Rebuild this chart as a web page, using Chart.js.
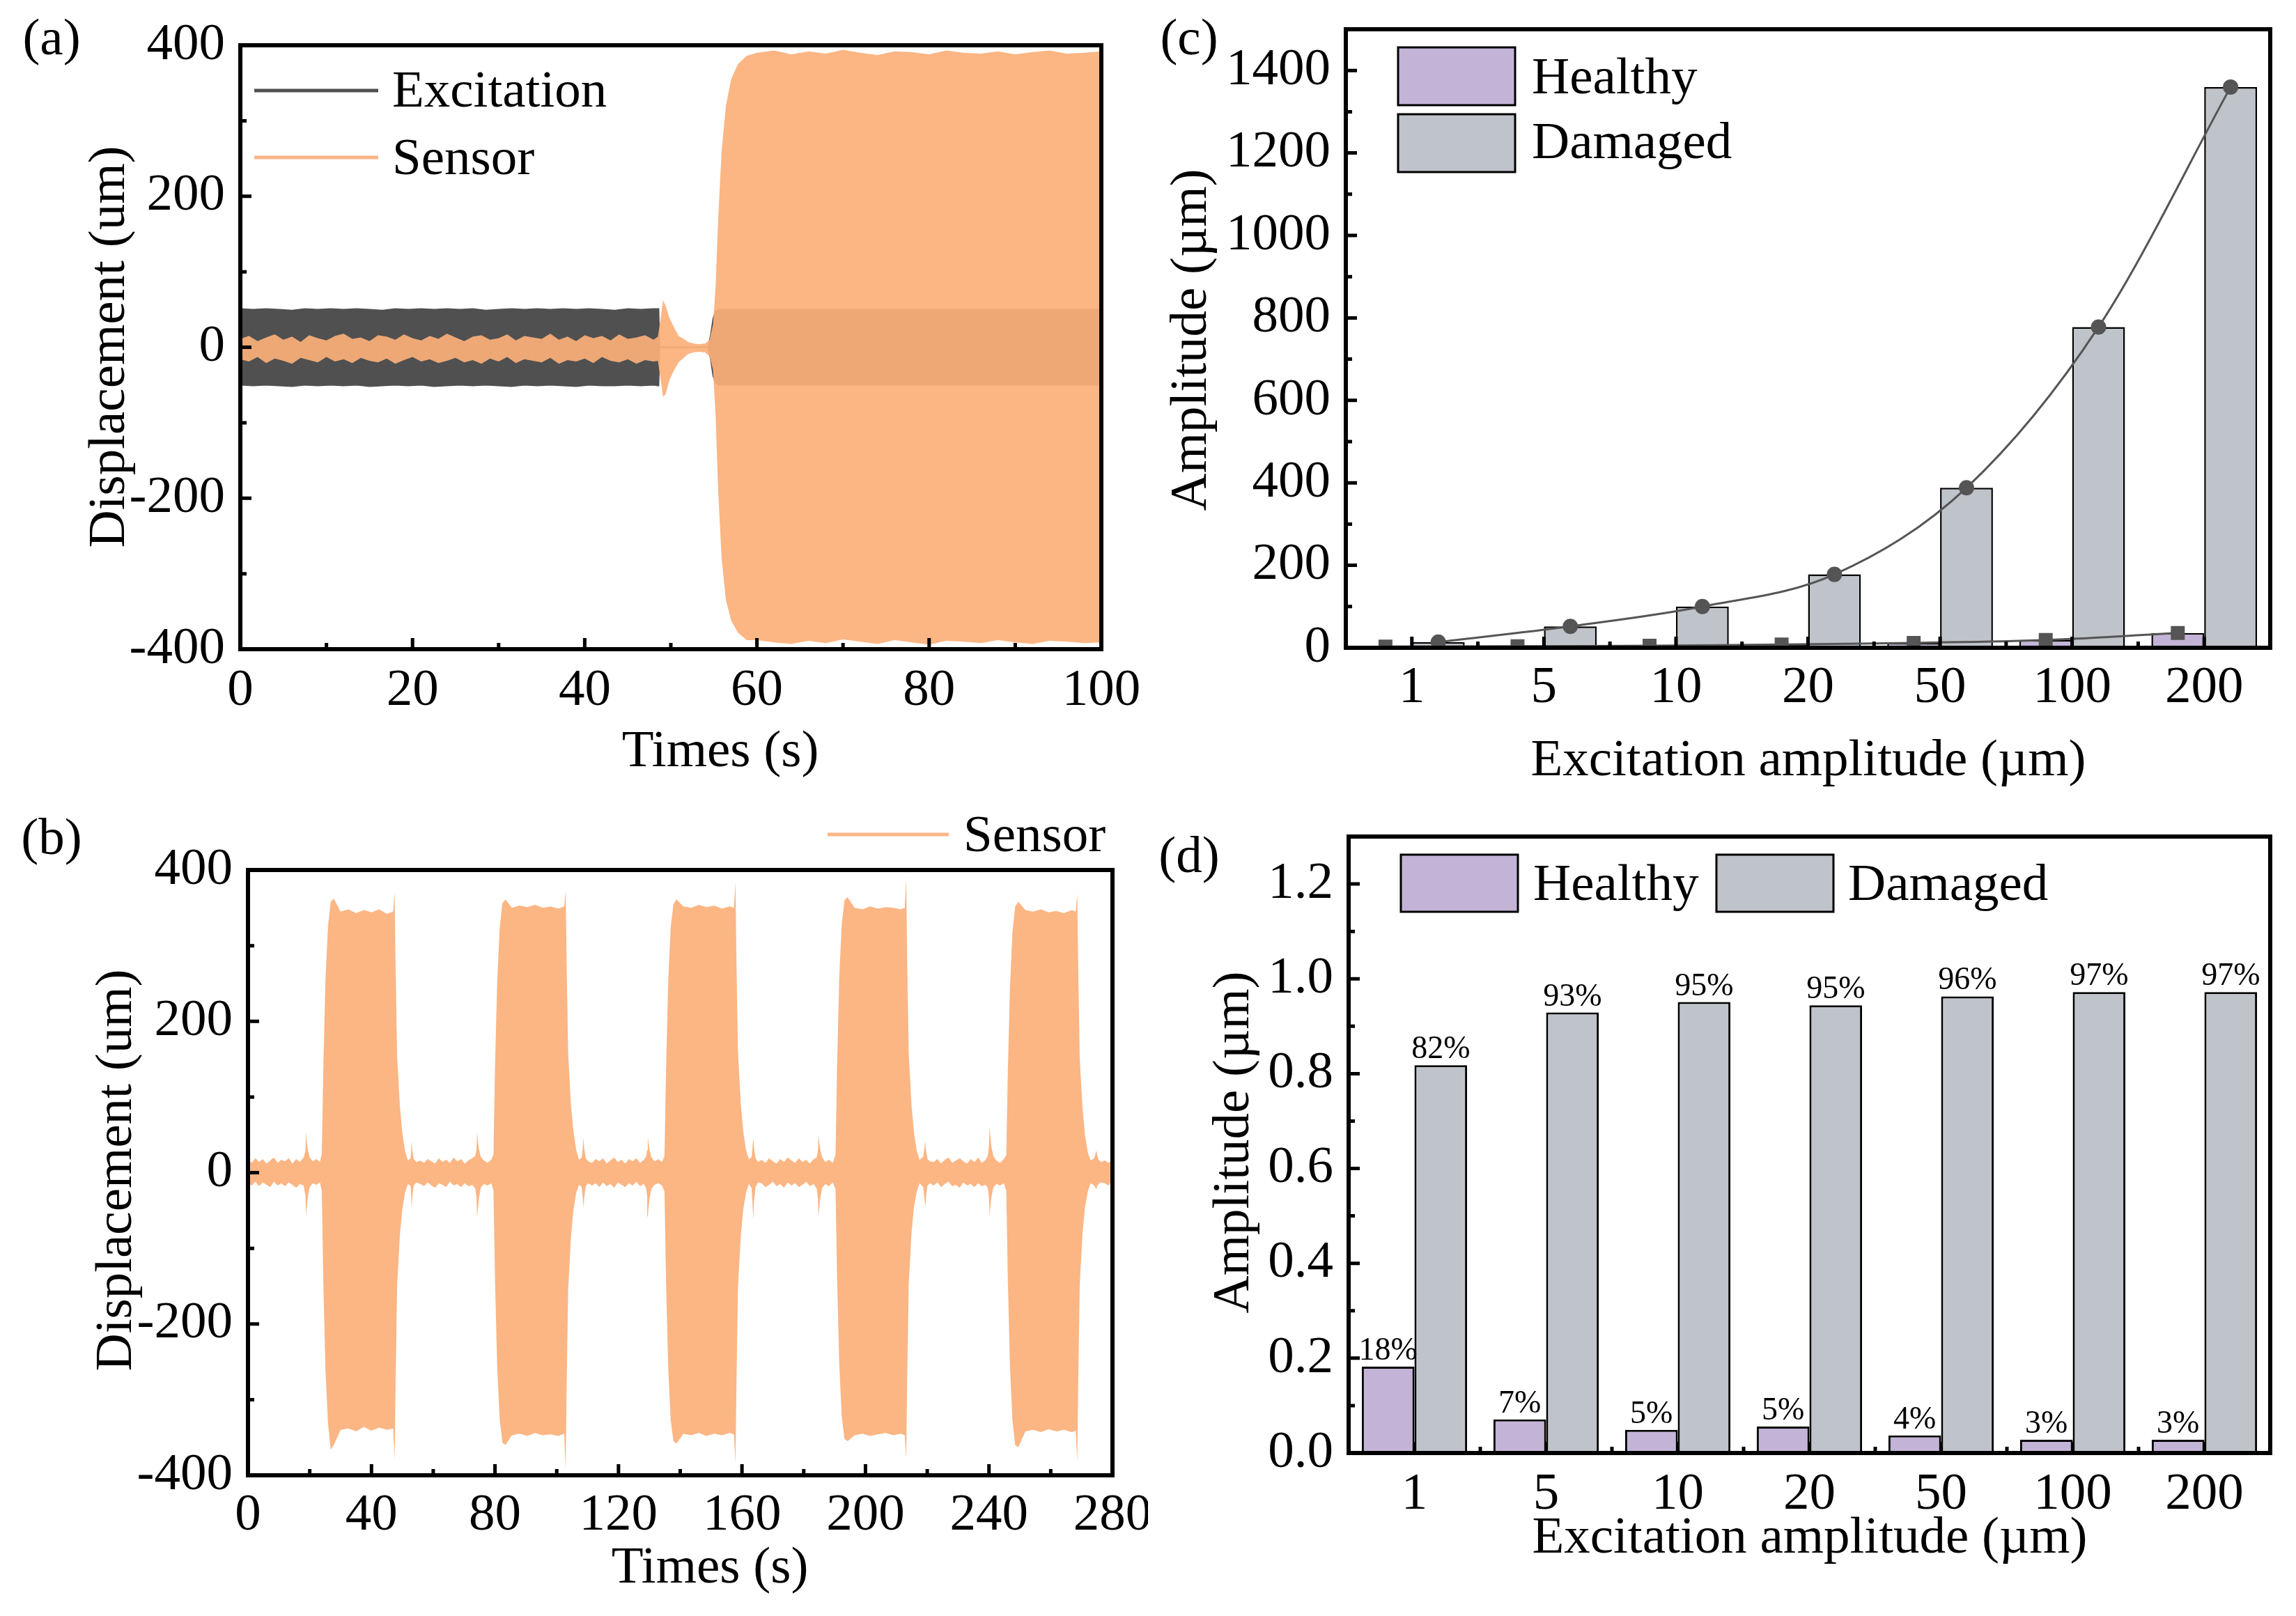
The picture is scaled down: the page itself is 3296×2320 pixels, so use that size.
<!DOCTYPE html>
<html>
<head>
<meta charset="utf-8">
<script src="https://cdn.jsdelivr.net/npm/chart.js@4.4.1/dist/chart.umd.min.js"></script>
<style>
  html, body { margin: 0; padding: 0; background: #fff; }
  #page { position: relative; width: 3296px; height: 2320px; background: #fff; }
  #page canvas { position: absolute; }
</style>
</head>
<body>
<div id="page">
  <canvas id="chartA" width="1648" height="1160" style="left:0;top:0"></canvas>
  <canvas id="chartB" width="1648" height="1160" style="left:0;top:1160px"></canvas>
  <canvas id="chartC" width="1648" height="1160" style="left:1648px;top:0"></canvas>
  <canvas id="chartD" width="1648" height="1160" style="left:1648px;top:1160px"></canvas>
</div>
<script>
// ---- (a) excitation and sensor displacement, envelopes of the oscillation (um) ----
const aExcTime = [0, 1.5, 3, 4.5, 6, 7.5, 9, 10.5, 12, 13.5, 15, 16.5, 18, 19.5, 21, 22.5,
  24, 25.5, 27, 28.5, 30, 31.5, 33, 34.5, 36, 37.5, 39, 40.5, 42, 43.5, 45, 46.5, 48,
  48.6, 48.7, 54.3, 54.6, 54.9, 55.2, 55.6,
  57, 60, 63, 66, 69, 72, 75, 78, 81, 84, 87, 90, 93, 96, 100];
const aExcUpper = [51, 50, 51, 50, 49, 51, 50, 51, 50, 51, 50, 49, 51, 50, 51, 50,
  51, 50, 51, 49, 50, 51, 50, 51, 50, 51, 50, 51, 50, 49, 51, 50, 51,
  51, 0, 0, 15, 38, 48, 50,
  50, 50, 50, 50, 50, 50, 50, 50, 50, 50, 50, 50, 50, 50, 50];
const aExcLower = [-50, -51, -50, -51, -52, -50, -51, -50, -51, -50, -52, -51, -50, -51, -50, -52,
  -51, -50, -51, -50, -51, -52, -50, -51, -50, -51, -52, -50, -51, -51, -50, -51, -50,
  -51, 0, 0, -15, -38, -48, -50,
  -50, -50, -50, -50, -50, -50, -50, -50, -50, -50, -50, -50, -50, -50, -50];

const aSenTime = [0, 1, 2, 3, 4, 5, 6, 7, 8, 9, 10, 11, 12, 13, 14, 15, 16, 17, 18, 19,
  20, 21, 22, 23, 24, 25, 26, 27, 28, 29, 30, 31, 32, 33, 34, 35, 36, 37, 38, 39,
  40, 41, 42, 43, 44, 45, 46, 47, 48,
  48.5, 48.9, 49.1, 49.4, 49.8, 50.3, 50.9, 51.5, 52.0, 52.6, 53.3, 54.0, 54.5, 54.9,
  55.2, 55.5, 55.9, 56.4, 57.0, 57.8, 58.8,
  60, 62, 64, 66, 68, 70, 72, 74, 76, 78, 80, 82, 84, 86, 88, 90, 92, 94, 96, 98, 100];
const aSenUpper = [11, 15, 8, 13, 17, 10, 14, 7, 16, 12, 9, 15, 18, 11, 13, 8, 16, 14, 10, 17,
  12, 9, 15, 11, 18, 13, 8, 14, 16, 10, 12, 17, 9, 15, 13, 11, 18, 10, 14, 8,
  16, 12, 15, 9, 17, 11, 13, 16, 10,
  14, 45, 62, 55, 40, 28, 15, 11, 7, 5, 4, 5, 10, 30,
  80, 170, 260, 320, 355, 375, 386,
  390, 393, 388, 392, 389, 394, 390, 387, 392, 391, 388, 393, 390, 389, 392, 388, 391, 393, 389, 390, 392];
const aSenLower = [-16, -19, -13, -21, -15, -18, -22, -14, -17, -20, -13, -19, -16, -21, -14, -18, -20, -15, -22, -17,
  -13, -19, -16, -21, -18, -14, -20, -17, -22, -15, -19, -13, -21, -16, -18, -20, -14, -22, -17, -19,
  -15, -21, -13, -18, -20, -16, -22, -17, -19,
  -18, -50, -66, -62, -45, -32, -20, -14, -9, -7, -6, -7, -12, -30,
  -90, -190, -280, -335, -362, -378, -388,
  -388, -391, -393, -389, -392, -387, -390, -393, -388, -391, -394, -389, -390, -392, -388, -391, -393, -389, -390, -392, -391];

// ---- (b) sensor displacement over five loading cycles (um) ----
const bTime = [
  0, 1.2, 2.4, 3.6, 4.8, 6.0, 7.2, 8.4, 9.6, 10.8, 12.0, 13.2, 14.4, 15.6, 16.8, 18.0,
  18.6, 18.8, 19.0, 19.4, 20.0, 21.0, 22.2, 23.3,
  23.9, 24.4, 25.1, 25.9, 26.8, 27.8, 30.0, 32.5, 35.0, 37.5, 40.0, 42.5, 45.0, 47.0, 47.5,
  47.8, 48.3, 49.2, 50.0, 50.9, 51.8, 52.7, 53.0, 53.2, 53.7, 54.5,
  55.8, 57.0, 58.2, 59.4, 60.6, 61.8, 63.0, 64.2, 65.4, 66.6, 67.8, 69.0, 70.2, 71.4, 72.6, 73.6,
  74.0, 74.2, 74.4, 74.8, 75.4, 76.4, 77.6, 78.8,
  79.5, 80.0, 80.7, 81.5, 82.4, 83.4, 85.5, 88.0, 90.5, 93.0, 95.5, 98.0, 100.5, 102.4, 102.9,
  103.2, 103.7, 104.6, 105.4, 106.3, 107.2, 108.1, 108.7, 108.9, 109.4, 110.2,
  111.4, 112.6, 113.8, 115.0, 116.2, 117.4, 118.6, 119.8, 121.0, 122.2, 123.4, 124.6, 125.8, 127.0, 128.2, 128.9,
  129.3, 129.5, 129.7, 130.1, 130.7, 131.7, 132.9, 134.1,
  134.9, 135.4, 136.1, 136.9, 137.8, 138.8, 141.0, 143.5, 146.0, 148.5, 151.0, 153.5, 156.0, 157.4, 157.9,
  158.2, 158.7, 159.6, 160.4, 161.3, 162.2, 163.1, 163.7, 163.9, 164.4, 165.2,
  166.4, 167.6, 168.8, 170.0, 171.2, 172.4, 173.6, 174.8, 176.0, 177.2, 178.4, 179.6, 180.8, 182.0, 183.2, 184.2,
  184.6, 184.8, 185.0, 185.4, 186.0, 187.0, 188.2, 189.4,
  190.3, 190.8, 191.5, 192.3, 193.2, 194.2, 196.5, 199.0, 201.5, 204.0, 206.5, 209.0, 211.5, 212.7, 213.2,
  213.5, 214.0, 214.9, 215.7, 216.6, 217.5, 218.7, 219.4, 219.6, 220.1, 220.9,
  222.1, 223.3, 224.5, 225.7, 226.9, 228.1, 229.3, 230.5, 231.7, 232.9, 234.1, 235.3, 236.5, 237.7, 238.9, 239.6,
  240.0, 240.2, 240.4, 240.8, 241.4, 242.4, 243.6, 244.8,
  245.6, 246.1, 246.8, 247.6, 248.5, 249.5, 251.8, 254.3, 256.8, 259.3, 261.8, 264.3, 266.8, 268.1, 268.6,
  268.9, 269.4, 270.3, 271.1, 272.0, 272.9, 274.1, 274.8, 275.0, 275.5, 276.3,
  277.5, 278.7, 279.4, 279.7, 280];
const bUpper = [
  17, 13, 19, 14, 18, 12, 16, 20, 13, 17, 15, 19, 12, 18, 14, 20,
  28, 54, 42, 30, 20, 15, 18, 14,
  25, 140, 255, 325, 358, 362, 345, 348, 343, 347, 344, 348, 342, 345, 371,
  275, 155, 88, 52, 28, 16, 19, 42, 30, 18, 14,
  16, 13, 18, 15, 12, 19, 14, 17, 13, 20, 15, 18, 12, 16, 19, 22,
  30, 54, 44, 31, 21, 16, 13, 17,
  24, 138, 250, 322, 356, 361, 350, 353, 351, 354, 350, 352, 349, 352, 372,
  278, 158, 90, 55, 30, 17, 20, 46, 32, 19, 15,
  13, 18, 15, 19, 12, 16, 20, 14, 17, 12, 18, 15, 19, 13, 17, 21,
  30, 49, 40, 29, 20, 15, 18, 14,
  22, 135, 252, 324, 355, 361, 352, 350, 354, 351, 353, 349, 352, 350, 384,
  280, 160, 92, 55, 30, 18, 20, 46, 33, 19, 14,
  17, 13, 19, 15, 12, 18, 14, 20, 16, 13, 19, 14, 17, 12, 18, 20,
  29, 51, 41, 30, 20, 14, 17, 13,
  24, 140, 258, 328, 360, 364, 350, 348, 352, 349, 351, 350, 348, 350, 388,
  282, 158, 90, 53, 29, 17, 21, 41, 30, 18, 15,
  14, 18, 12, 17, 20, 13, 16, 19, 15, 12, 18, 14, 20, 13, 17, 22,
  35, 62, 50, 34, 22, 16, 13, 18,
  23, 132, 245, 318, 352, 358, 347, 345, 348, 344, 346, 343, 347, 345, 369,
  272, 150, 86, 50, 27, 16, 19, 30, 24, 17, 14,
  16, 13, 15, 10, 12];
const bLower = [
  -14, -17, -12, -18, -13, -16, -19, -12, -17, -14, -18, -13, -16, -20, -15, -17,
  -30, -57, -48, -32, -19, -14, -16, -13,
  -24, -145, -262, -330, -366, -360, -340, -338, -342, -336, -341, -337, -340, -338, -379,
  -280, -150, -82, -48, -26, -15, -18, -46, -32, -17, -13,
  -15, -18, -13, -17, -20, -14, -16, -19, -12, -17, -15, -19, -14, -18, -16, -21,
  -33, -59, -50, -34, -20, -15, -17, -14,
  -23, -140, -255, -325, -357, -360, -347, -345, -348, -344, -347, -346, -348, -345, -392,
  -285, -155, -85, -50, -27, -16, -19, -46, -33, -18, -14,
  -17, -14, -19, -13, -18, -15, -20, -13, -16, -19, -14, -17, -12, -18, -15, -20,
  -32, -58, -47, -33, -21, -16, -14, -17,
  -25, -142, -258, -327, -355, -358, -345, -347, -344, -348, -345, -347, -344, -346, -384,
  -282, -152, -84, -49, -27, -15, -20, -62, -38, -19, -13,
  -14, -19, -16, -12, -18, -15, -20, -13, -17, -14, -19, -16, -12, -18, -15, -21,
  -34, -59, -48, -33, -20, -15, -18, -13,
  -22, -138, -252, -322, -352, -355, -347, -345, -348, -346, -344, -347, -345, -347, -378,
  -275, -148, -80, -46, -25, -14, -19, -46, -32, -17, -14,
  -17, -13, -19, -15, -12, -18, -16, -20, -13, -17, -15, -19, -14, -18, -16, -20,
  -33, -58, -47, -32, -20, -15, -17, -14,
  -24, -140, -256, -328, -360, -363, -342, -340, -343, -339, -342, -340, -343, -341, -383,
  -278, -148, -80, -46, -25, -14, -17, -22, -18, -15, -13,
  -14, -17, -13, -30, -28];

// ---- (c) and (d) response amplitude against excitation amplitude ----
const ampLabels = ['1', '5', '10', '20', '50', '100', '200'];
const cHealthy = [3, 4, 5, 8, 12, 19, 36];
const cDamaged = [14, 52, 100, 178, 388, 778, 1360];
const dHealthy = [0.182, 0.071, 0.049, 0.056, 0.037, 0.028, 0.028];
const dDamaged = [0.818, 0.929, 0.951, 0.944, 0.963, 0.972, 0.972];
const dHealthyText = ['18%', '7%', '5%', '5%', '4%', '3%', '3%'];
const dDamagedText = ['82%', '93%', '95%', '95%', '96%', '97%', '97%'];

const FAMILY = 'Liberation Serif';
const FONT = { family: FAMILY, size: 75 };
const ORANGE = 'rgba(251,176,122,0.92)';
const ORANGE_LINE = '#FCB685';
const DARK = '#505050';
const PURPLE = '#C3B4D7';
const GREY = '#BFC3CA';

Chart.defaults.font.family = FAMILY;
Chart.defaults.color = '#000';

function pts(xs, ys) {
  return xs.map((x, i) => ({ x: x, y: ys[i] }));
}

// upper/lower envelope pair, the area between them is filled
function band(label, time, upper, lower, color, edge, order) {
  return [
    { label: label, data: pts(time, upper), fill: '+1', backgroundColor: color,
      borderColor: edge, borderWidth: 1.5, pointRadius: 0, order: order },
    { label: label + ' lower', data: pts(time, lower), fill: false, backgroundColor: color,
      borderColor: edge, borderWidth: 1.5, pointRadius: 0, order: order }
  ];
}

function yAxis(min, max, step, width, fmt) {
  return {
    type: 'linear', min: min, max: max,
    grid: { display: false, drawTicks: false },
    border: { display: false },
    ticks: { stepSize: step, includeBounds: false, padding: 22, font: FONT, color: '#000', callback: fmt },
    afterFit: s => { s.width = width; s.paddingTop = 0; s.paddingBottom = 0; }
  };
}

function xLinear(min, max, step, height, pad) {
  return {
    type: 'linear', min: min, max: max, offset: false,
    grid: { display: false, drawTicks: false },
    border: { display: false },
    ticks: { stepSize: step, padding: pad, font: FONT, color: '#000', maxRotation: 0, autoSkip: false,
      callback: v => String(v) },
    afterFit: s => { s.height = height; s.paddingLeft = 0; s.paddingRight = 0; }
  };
}

function xCategory(height, pad) {
  return {
    type: 'category', offset: true,
    grid: { display: false, drawTicks: false },
    border: { display: false },
    ticks: { padding: pad, font: FONT, color: '#000', maxRotation: 0, autoSkip: false },
    afterFit: s => { s.height = height; s.paddingLeft = 0; s.paddingRight = 0; }
  };
}

// frame, inward major/minor ticks, legends, titles and labels
function decor(cfg) {
  return {
    id: 'decor',
    afterDatasetsDraw(chart) {
      const ctx = chart.ctx;
      const a = chart.chartArea;
      ctx.save();

      (cfg.barLabels || []).forEach(bl => {
        const meta = chart.getDatasetMeta(bl.dataset);
        ctx.font = bl.size + 'px ' + FAMILY;
        ctx.fillStyle = '#000';
        ctx.textAlign = 'center';
        ctx.textBaseline = 'alphabetic';
        meta.data.forEach((bar, i) => ctx.fillText(bl.texts[i], bar.x, bar.y - 10));
      });

      ctx.strokeStyle = '#000';
      ctx.lineWidth = 5;
      ctx.lineCap = 'butt';
      const xs = chart.scales.x, ys = chart.scales.y;
      const xMajor = xs.type === 'category' ? xs.ticks.map((t, i) => i) : xs.ticks.map(t => t.value);
      const yMajor = ys.ticks.map(t => t.value);
      const mids = arr => arr.slice(1).map((v, i) => (v + arr[i]) / 2);
      ctx.beginPath();
      xMajor.forEach(v => { const p = xs.getPixelForValue(v); ctx.moveTo(p, a.bottom); ctx.lineTo(p, a.bottom - 16); });
      mids(xMajor).forEach(v => { const p = xs.getPixelForValue(v); ctx.moveTo(p, a.bottom); ctx.lineTo(p, a.bottom - 9); });
      yMajor.forEach(v => { const p = ys.getPixelForValue(v); ctx.moveTo(a.left, p); ctx.lineTo(a.left + 16, p); });
      mids(yMajor).forEach(v => { const p = ys.getPixelForValue(v); ctx.moveTo(a.left, p); ctx.lineTo(a.left + 9, p); });
      ctx.stroke();

      ctx.lineWidth = 6;
      ctx.strokeRect(a.left, a.top, a.right - a.left, a.bottom - a.top);

      (cfg.lines || []).forEach(l => {
        ctx.strokeStyle = l.color;
        ctx.lineWidth = 5;
        ctx.beginPath();
        ctx.moveTo(l.x1, l.y);
        ctx.lineTo(l.x2, l.y);
        ctx.stroke();
      });
      (cfg.boxes || []).forEach(b => {
        ctx.fillStyle = b.color;
        ctx.fillRect(b.x, b.y, b.w, b.h);
        ctx.strokeStyle = '#000';
        ctx.lineWidth = 3;
        ctx.strokeRect(b.x, b.y, b.w, b.h);
      });

      ctx.fillStyle = '#000';
      ctx.textBaseline = 'middle';
      (cfg.texts || []).forEach(t => {
        ctx.font = (t.size || 75) + 'px ' + FAMILY;
        ctx.textAlign = t.align || 'center';
        ctx.save();
        ctx.translate(t.x, t.y);
        if (t.rot) ctx.rotate(t.rot);
        ctx.fillText(t.text, 0, 0);
        ctx.restore();
      });
      ctx.restore();
    }
  };
}

const base = {
  animation: false,
  responsive: false,
  devicePixelRatio: 1,
  plugins: { legend: { display: false }, tooltip: { enabled: false } }
};

// (a)
new Chart(document.getElementById('chartA'), {
  type: 'line',
  data: {
    datasets: [
      ...band('Sensor', aSenTime, aSenUpper, aSenLower, ORANGE, 'rgba(0,0,0,0)', 0),
      ...band('Excitation', aExcTime, aExcUpper, aExcLower, DARK, DARK, 1)
    ]
  },
  options: Object.assign({}, base, {
    layout: { padding: { left: 0, top: 65, right: 67, bottom: 0 } },
    scales: {
      x: xLinear(0, 100, 20, 228, 15),
      y: yAxis(-400, 400, 200, 345, v => String(v))
    }
  }),
  plugins: [decor({
    lines: [
      { x1: 365, x2: 543, y: 130, color: DARK },
      { x1: 365, x2: 543, y: 226, color: ORANGE_LINE }
    ],
    texts: [
      { text: '(a)', x: 74, y: 58 },
      { text: 'Excitation', x: 563, y: 133, align: 'left' },
      { text: 'Sensor', x: 563, y: 230, align: 'left' },
      { text: 'Displacement (um)', x: 158, y: 498, rot: -Math.PI / 2 },
      { text: 'Times (s)', x: 1034, y: 1080 }
    ]
  })]
});

// (b)
new Chart(document.getElementById('chartB'), {
  type: 'line',
  data: { datasets: band('Sensor', bTime, bUpper, bLower, ORANGE, 'rgba(0,0,0,0)', 0) },
  options: Object.assign({}, base, {
    layout: { padding: { left: 0, top: 89, right: 51, bottom: 0 } },
    scales: {
      x: xLinear(0, 280, 40, 202, 13),
      y: yAxis(-400, 400, 200, 356, v => String(v))
    }
  }),
  plugins: [decor({
    lines: [{ x1: 1188, x2: 1362, y: 38, color: ORANGE_LINE }],
    texts: [
      { text: '(b)', x: 74, y: 46 },
      { text: 'Sensor', x: 1383, y: 42, align: 'left' },
      { text: 'Displacement (um)', x: 168, y: 520, rot: -Math.PI / 2 },
      { text: 'Times (s)', x: 1019, y: 1092 }
    ]
  })]
});

// (c) bars and fitted curves share one linear index axis so the markers can sit on each bar
const ampIndex = ampLabels.map((l, i) => i);
const shifted = (vals, shift) => vals.map((v, i) => ({ x: i + shift, y: v }));
new Chart(document.getElementById('chartC'), {
  type: 'bar',
  data: {
    datasets: [
      { type: 'line', label: 'Healthy fit', data: shifted(cHealthy, -0.2),
        borderColor: '#555', backgroundColor: '#555', borderWidth: 3, tension: 0.4,
        pointStyle: 'rect', pointRadius: 12, order: 0 },
      { type: 'line', label: 'Damaged fit', data: shifted(cDamaged, 0.2),
        borderColor: '#555', backgroundColor: '#555', borderWidth: 3, tension: 0.4,
        cubicInterpolationMode: 'monotone', pointStyle: 'circle', pointRadius: 9.5, order: 0 },
      { label: 'Healthy', data: pts(ampIndex, cHealthy), backgroundColor: PURPLE, borderColor: '#000',
        borderWidth: 2.5, categoryPercentage: 0.8, barPercentage: 1, order: 1 },
      { label: 'Damaged', data: pts(ampIndex, cDamaged), backgroundColor: GREY, borderColor: '#000',
        borderWidth: 2.5, categoryPercentage: 0.8, barPercentage: 1, order: 1 }
    ]
  },
  options: Object.assign({}, base, {
    layout: { padding: { left: 0, top: 42, right: 37, bottom: 0 } },
    scales: {
      x: {
        type: 'linear', min: -0.5, max: 6.5, offset: false,
        grid: { display: false, drawTicks: false },
        border: { display: false },
        ticks: { padding: 13, font: FONT, color: '#000', maxRotation: 0, autoSkip: false,
          callback: v => ampLabels[Math.round(v)] },
        afterBuildTicks: s => { s.ticks = ampIndex.map(v => ({ value: v })); },
        afterFit: s => { s.height = 230; s.paddingLeft = 0; s.paddingRight = 0; }
      },
      y: yAxis(0, 1500, 200, 284, v => String(v))
    }
  }),
  plugins: [decor({
    boxes: [
      { x: 359, y: 68, w: 168, h: 83, color: PURPLE },
      { x: 359, y: 164, w: 168, h: 83, color: GREY }
    ],
    texts: [
      { text: '(c)', x: 59, y: 58 },
      { text: 'Healthy', x: 551, y: 114, align: 'left' },
      { text: 'Damaged', x: 551, y: 207, align: 'left' },
      { text: 'Amplitude (\u00b5m)', x: 63, y: 488, rot: -Math.PI / 2 },
      { text: 'Excitation amplitude (\u00b5m)', x: 948, y: 1093 }
    ]
  })]
});

// (d)
new Chart(document.getElementById('chartD'), {
  type: 'bar',
  data: {
    labels: ampLabels,
    datasets: [
      { label: 'Healthy', data: dHealthy, backgroundColor: PURPLE, borderColor: '#000', borderWidth: 3,
        categoryPercentage: 0.8, barPercentage: 1 },
      { label: 'Damaged', data: dDamaged, backgroundColor: GREY, borderColor: '#000', borderWidth: 3,
        categoryPercentage: 0.8, barPercentage: 1 }
    ]
  },
  options: Object.assign({}, base, {
    layout: { padding: { left: 0, top: 41, right: 37, bottom: 0 } },
    scales: {
      x: xCategory(234, 15),
      y: yAxis(0, 1.3, 0.2, 288, v => v.toFixed(1))
    }
  }),
  plugins: [decor({
    barLabels: [
      { dataset: 0, texts: dHealthyText, size: 46 },
      { dataset: 1, texts: dDamagedText, size: 46 }
    ],
    boxes: [
      { x: 363, y: 67, w: 168, h: 82, color: PURPLE },
      { x: 816, y: 67, w: 168, h: 82, color: GREY }
    ],
    texts: [
      { text: '(d)', x: 59, y: 72 },
      { text: 'Healthy', x: 553, y: 112, align: 'left' },
      { text: 'Damaged', x: 1005, y: 112, align: 'left' },
      { text: 'Amplitude (\u00b5m)', x: 124, y: 480, rot: -Math.PI / 2 },
      { text: 'Excitation amplitude (\u00b5m)', x: 950, y: 1049 }
    ]
  })]
});
</script>
</body>
</html>
